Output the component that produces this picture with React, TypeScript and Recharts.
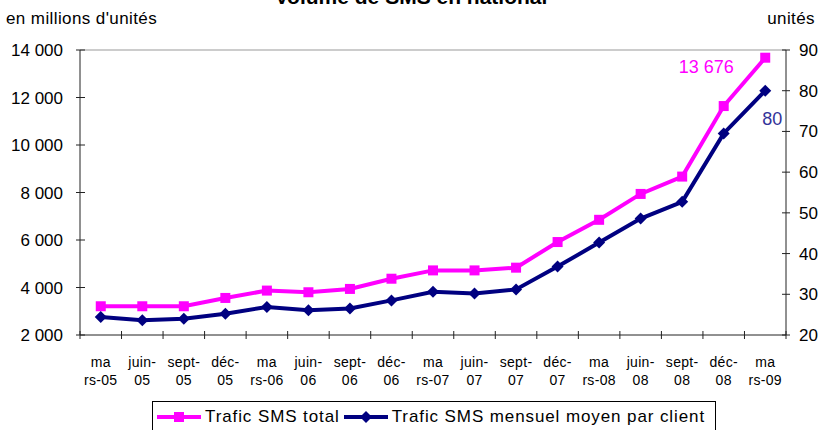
import React from 'react';
import { LineChart, Line, XAxis, YAxis, Legend, ReferenceLine, Customized } from 'recharts';

const categories = ['mars-05', 'juin-05', 'sept-05', 'déc-05', 'mars-06', 'juin-06', 'sept-06', 'déc-06', 'mars-07', 'juin-07', 'sept-07', 'déc-07', 'mars-08', 'juin-08', 'sept-08', 'déc-08', 'mars-09'];
const tickTop = ['ma', 'juin-', 'sept-', 'déc-', 'ma', 'juin-', 'sept-', 'déc-', 'ma', 'juin-', 'sept-', 'déc-', 'ma', 'juin-', 'sept-', 'déc-', 'ma'];
const tickBottom = ['rs-05', '05', '05', '05', 'rs-06', '06', '06', '06', 'rs-07', '07', '07', '07', 'rs-08', '08', '08', '08', 'rs-09'];
const smsTotal = [3210, 3210, 3210, 3560, 3870, 3800, 3940, 4370, 4720, 4720, 4835, 5914, 6850, 7940, 8670, 11640, 13676];
const smsPerClient = [24.4, 23.6, 24.0, 25.2, 26.9, 26.1, 26.5, 28.5, 30.6, 30.2, 31.2, 36.8, 42.7, 48.6, 52.7, 69.5, 80];
const leftTicks = [2000, 4000, 6000, 8000, 10000, 12000, 14000];
const rightTicks = [20, 30, 40, 50, 60, 70, 80, 90];

const seriesOrder = ['total', 'client'];
const seriesNames = { total: 'Trafic SMS total', client: 'Trafic SMS mensuel moyen par client' };
const PINK = '#FF00FF';
const NAVY = '#000080';
const FONT = '"Liberation Sans", Arial, sans-serif';
const AXIS = '#222';

const data = categories.map((c, i) => ({ cat: c, total: smsTotal[i], client: smsPerClient[i] }));
const lastIndex = data.length - 1;

const fmtThousands = (v: number) => {
  const s = String(Math.round(v));
  return s.replace(/\B(?=(\d{3})+(?!\d))/g, ' ');
};

const LEFT_TS = 5, LEFT_TM = 12;
const RIGHT_TS = 5, RIGHT_TM = 8;
const X_TS = 4, X_TM = 8;

const LeftTick = (p: any) => {
  const { x, y, payload } = p;
  const ax = x + LEFT_TS + LEFT_TM;
  return (
    <g>
      <line x1={ax - 4} x2={ax + 5} y1={y} y2={y} stroke={AXIS} />
      <text x={x} y={y} dy={6} textAnchor="end" fontSize={17} fontFamily={FONT} fill="#000">{fmtThousands(payload.value)}</text>
    </g>
  );
};

const RightTick = (p: any) => {
  const { x, y, payload } = p;
  const ax = x - RIGHT_TS - RIGHT_TM;
  return (
    <g>
      <line x1={ax - 4} x2={ax + 4} y1={y} y2={y} stroke={AXIS} />
      <text x={x} y={y} dy={6} textAnchor="start" fontSize={17} fontFamily={FONT} fill="#000">{payload.value}</text>
    </g>
  );
};

const XTick = (p: any) => {
  const { x, y, payload, width } = p;
  const ay = y - X_TS - X_TM;
  const half = payload.offset != null && payload.offset > 0 ? payload.offset : width / categories.length / 2;
  const i = payload.index != null ? payload.index : categories.indexOf(payload.value);
  return (
    <g>
      <line x1={x - half} x2={x - half} y1={ay - 4} y2={ay + 4} stroke={AXIS} />
      {i === lastIndex && <line x1={x + half} x2={x + half} y1={ay - 4} y2={ay + 4} stroke={AXIS} />}
      <text x={x} y={ay + 32} textAnchor="middle" fontSize={14} letterSpacing={0.3} fontFamily={FONT} fill="#000">{tickTop[i]}</text>
      <text x={x} y={ay + 50} textAnchor="middle" fontSize={14} letterSpacing={0.3} fontFamily={FONT} fill="#000">{tickBottom[i]}</text>
    </g>
  );
};

const SquareDot = (p: any) => {
  const { cx, cy, index } = p;
  if (cx == null || cy == null) return <g key={`s${index}`} />;
  return <rect key={`s${index}`} x={cx - 5} y={cy - 5} width={10} height={10} fill={PINK} />;
};

const DiamondDot = (p: any) => {
  const { cx, cy, index } = p;
  if (cx == null || cy == null) return <g key={`d${index}`} />;
  const r = 6;
  return <polygon key={`d${index}`} points={`${cx},${cy - r} ${cx + r},${cy} ${cx},${cy + r} ${cx - r},${cy}`} fill={NAVY} />;
};

const TotalLabel = (p: any) => {
  const { x, y, index, value } = p;
  if (index !== lastIndex) return <g key={`tl${index}`} />;
  return <text key={`tl${index}`} x={x - 59} y={y + 15} textAnchor="middle" fontSize={18} fontFamily={FONT} fill={PINK}>{fmtThousands(value)}</text>;
};

const ClientLabel = (p: any) => {
  const { x, y, index, value } = p;
  if (index !== lastIndex) return <g key={`cl${index}`} />;
  return <text key={`cl${index}`} x={x + 7} y={y + 34} textAnchor="middle" fontSize={18} fontFamily={FONT} fill="#333399">{value}</text>;
};

const LegendContent = (props: any) => {
  const items = [...(props.payload || [])].sort((a: any, b: any) => seriesOrder.indexOf(a.dataKey) - seriesOrder.indexOf(b.dataKey));
  return (
    <div style={{ border: '1px solid #000', background: '#fff', display: 'flex', alignItems: 'center', height: 32, boxSizing: 'border-box', padding: '0 3px', fontFamily: FONT, fontSize: 17, letterSpacing: 0.9, whiteSpace: 'nowrap', color: '#000' }}>
      {items.map((it: any, k: number) => (
        <div key={k} style={{ display: 'flex', alignItems: 'center', marginRight: 3 }}>
          <svg width={46} height={14} style={{ marginRight: 3 }}>
            <line x1={1} x2={45} y1={7} y2={7} stroke={it.color} strokeWidth={4} />
            {it.dataKey === 'total'
              ? <rect x={18} y={2} width={10} height={10} fill={it.color} />
              : <polygon points="23,1 29,7 23,13 17,7" fill={it.color} />}
          </svg>
          <span>{it.value}</span>
        </div>
      ))}
    </div>
  );
};

const Titles = () => (
  <g fontFamily={FONT}>
    <text x={411} y={4} textAnchor="middle" fontSize={21} fontWeight="bold" fill="#000">Volume de SMS en national</text>
    <text x={6} y={24} fontSize={17} letterSpacing={0.4} fill="#000">en millions d'unités</text>
    <text x={815} y={24} textAnchor="end" fontSize={17} letterSpacing={0.4} fill="#000">unités</text>
  </g>
);

export default function App() {
  return (
    <div style={{ position: 'absolute', left: 0, top: 0, width: 821, height: 430, background: '#fff', overflow: 'hidden' }}>
      <LineChart width={821} height={430} data={data} margin={{ top: 50, right: 0, left: 0, bottom: 0 }}>
        <ReferenceLine yAxisId="left" y={14000} stroke="#999" strokeWidth={1} />
        <XAxis dataKey="cat" scale="band" interval={0} height={95} tickSize={X_TS} tickMargin={X_TM} tickLine={false} axisLine={{ stroke: AXIS }} tick={<XTick />} />
        <YAxis yAxisId="left" orientation="left" width={80} domain={[2000, 14000]} ticks={leftTicks} allowDataOverflow tickSize={LEFT_TS} tickMargin={LEFT_TM} tickLine={false} axisLine={{ stroke: AXIS }} tick={<LeftTick />} />
        <YAxis yAxisId="right" orientation="right" width={35} domain={[20, 90]} ticks={rightTicks} allowDataOverflow tickSize={RIGHT_TS} tickMargin={RIGHT_TM} tickLine={false} axisLine={{ stroke: AXIS }} tick={<RightTick />} />
        <Line yAxisId="left" type="linear" dataKey="total" name={seriesNames.total} stroke={PINK} strokeWidth={4} dot={SquareDot} activeDot={false} label={TotalLabel} isAnimationActive={false} />
        <Line yAxisId="right" type="linear" dataKey="client" name={seriesNames.client} stroke={NAVY} strokeWidth={4} dot={DiamondDot} activeDot={false} label={ClientLabel} isAnimationActive={false} />
        <Legend layout="horizontal" verticalAlign="middle" align="center" wrapperStyle={{ left: 152, top: 401, width: 564, height: 32 }} content={<LegendContent />} />
        <Customized component={Titles} />
      </LineChart>
    </div>
  );
}
